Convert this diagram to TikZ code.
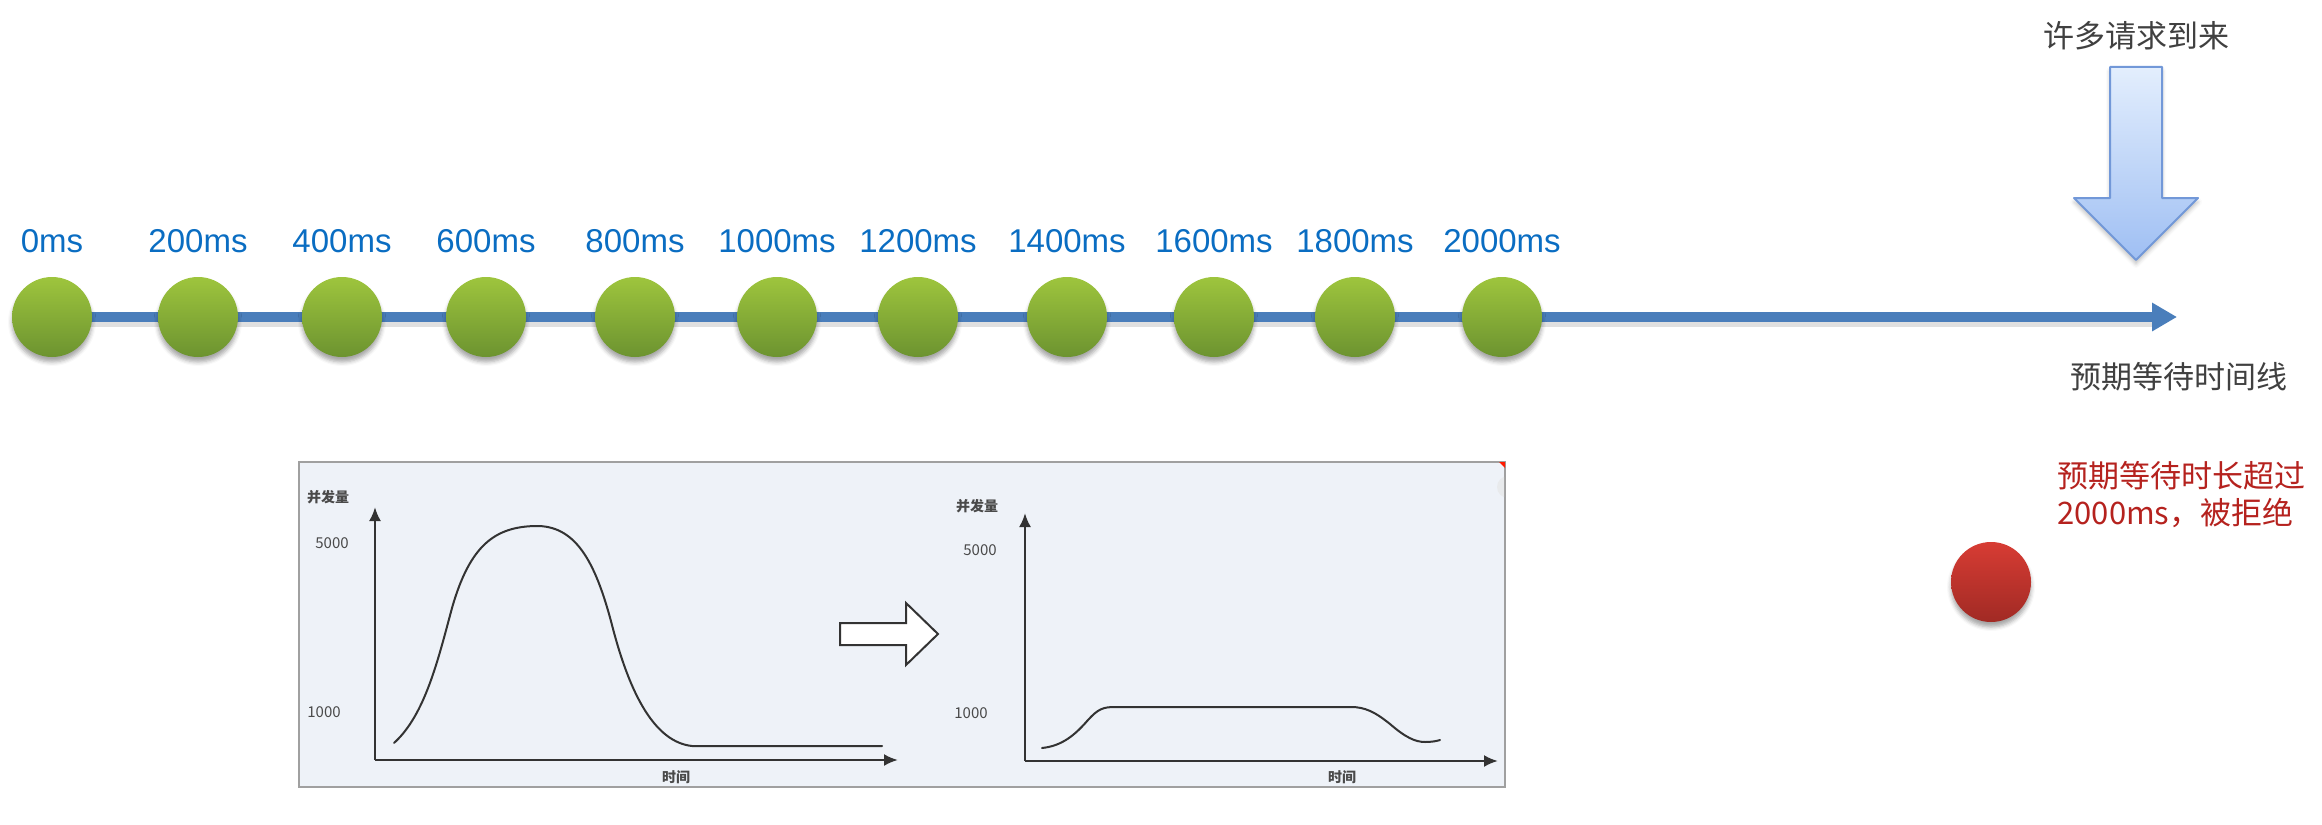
\documentclass[tikz,border=0pt]{standalone}
\usepackage{fontspec}
\setmainfont{Liberation Sans}
\newfontfamily\cjk{Noto Sans CJK SC}
\usetikzlibrary{arrows.meta,shadows.blur}
\definecolor{lblue}{HTML}{0A6DC2}
\definecolor{tline}{HTML}{4A7EBB}
\definecolor{gtop}{HTML}{9EC53D}
\definecolor{gbot}{HTML}{6C9330}
\definecolor{graytxt}{HTML}{404040}
\definecolor{redtxt}{HTML}{B5221E}
\definecolor{rtop}{HTML}{D73C34}
\definecolor{rbot}{HTML}{A12A24}
\definecolor{atop}{HTML}{E3EEFD}
\definecolor{abot}{HTML}{9FBFF3}
\definecolor{aedge}{HTML}{7298D8}
\definecolor{boxbg}{HTML}{EEF2F8}
\definecolor{boxedge}{HTML}{A0A0A0}
\definecolor{ink}{HTML}{333333}
\definecolor{chtxt}{HTML}{4A4A4A}
\tikzset{
  ballshadow/.style={blur shadow={shadow xshift=0pt,shadow yshift=-2.5pt,shadow blur radius=2pt,shadow opacity=35}},
  greenball/.style={circle,minimum size=40pt,inner sep=0pt,top color=gtop,bottom color=gbot,draw=none,ballshadow},
  redball/.style={circle,minimum size=40pt,inner sep=0pt,top color=rtop,bottom color=rbot,draw=none,ballshadow},
  mslabel/.style={anchor=base,inner sep=0pt,text=lblue,font=\fontsize{16.5pt}{18pt}\selectfont},
  graytext/.style={inner sep=0pt,text=graytxt,font=\cjk\fontsize{15.5pt}{18pt}\selectfont},
  redtext/.style={inner sep=0pt,text=redtxt,font=\cjk\fontsize{15.5pt}{18pt}\selectfont},
  chartlbl/.style={inner sep=0pt,text=chtxt,font=\cjk\bfseries\fontsize{7pt}{8pt}\selectfont},
  chartnum/.style={inner sep=0pt,text=chtxt,font=\cjk\fontsize{7.5pt}{8pt}\selectfont},
  axis/.style={ink,line width=1.2pt,-{Latex[length=7pt,width=6pt]}},
  curve/.style={ink,line width=1pt,line cap=round,line join=round},
}
\begin{document}
\begin{tikzpicture}[x=0.5pt,y=-0.5pt]
\useasboundingbox (0,0) rectangle (2322,824);

% timeline (drawn first so the balls sit on it)
\coordinate (t0) at (52,317);
\coordinate (tlend) at (2177,317);
\draw[black,opacity=0.12,line width=4pt] ([yshift=-3pt]t0) -- ([yshift=-3pt,xshift=-12pt]tlend);
\draw[tline,line width=5pt,-{Triangle[length=12.5pt,width=13.5pt]}] (t0) -- (tlend);

% timeline balls and labels
\foreach \x/\t [count=\i from 0] in {52/0ms,198/200ms,342/400ms,486/600ms,635/800ms,777/1000ms,918/1200ms,1067/1400ms,1214/1600ms,1355/1800ms,1502/2000ms}{
  \node[greenball] (c\i) at (\x,317) {};
  \node[mslabel] (l\i) at (\x,252) {\t};
}

% requests arrow
\node[graytext] (req) at (2136,36) {许多请求到来};
\path[top color=atop,bottom color=abot,draw=aedge,line width=1pt,line join=round,
  blur shadow={shadow xshift=0pt,shadow yshift=-2pt,shadow blur radius=2pt,shadow opacity=25}]
  (2110,67) -- (2162,67) -- (2162,198) -- (2198,198) -- (2136,260) -- (2074,198) -- (2110,198) -- cycle;
\node[graytext] (tlname) at (2179,377) {预期等待时间线};

% rejected
\node[redtext,anchor=west] (rej1) at (2057,476) {预期等待时长超过};
\node[redtext,anchor=west] (rej2) at (2057,513) {2000ms，被拒绝};
\node[redball] (rball) at (1991,582) {};

% chart screenshot
\draw[fill=boxbg,draw=boxedge,line width=1.2pt] (299,462) rectangle (1505,787);
\fill[red!80!orange] (1499,462) -- (1505,462) -- (1505,468) -- cycle;
\begin{scope}
  \clip (299,462) rectangle (1504,787);
  \fill[black!10,opacity=0.6] (1508,487) circle (11);
\end{scope}

% left chart
\coordinate (lo) at (375,760);
\coordinate (ly) at (375,507);
\coordinate (lx) at (898,760);
\draw[axis] (lo) -- (ly);
\draw[axis] (lo) -- (lx);
\node[chartlbl] (lq) at (328,497) {并发量};
\node[chartnum] (l5) at (332,543) {5000};
\node[chartnum] (l1) at (324,712) {1000};
\node[chartlbl] (lt) at (676,777) {时间};
\draw[curve] (394,743) .. controls (425,715) and (438,660) .. (452,608)
  .. controls (470,545) and (495,527) .. (535,526)
  .. controls (575,525) and (595,560) .. (612,625)
  .. controls (630,695) and (655,742) .. (692,746) -- (882,746);

% hollow arrow
\draw[ink,fill=white,line width=1pt,line join=miter] (840,623) -- (906,623) -- (906,603) -- (938,634) -- (906,665) -- (906,645) -- (840,645) -- cycle;

% right chart
\coordinate (ro) at (1025,761);
\coordinate (ry) at (1025,513);
\coordinate (rx) at (1498,761);
\draw[axis] (ro) -- (ry);
\draw[axis] (ro) -- (rx);
\node[chartlbl] (rq) at (977,506) {并发量};
\node[chartnum] (r5) at (980,550) {5000};
\node[chartnum] (r1) at (971,713) {1000};
\node[chartlbl] (rt) at (1342,777) {时间};
\draw[curve] (1042,748) .. controls (1062,746) and (1075,735) .. (1088,720)
  .. controls (1098,709) and (1103,707) .. (1115,707) -- (1351,707)
  .. controls (1365,707) and (1375,712) .. (1390,724)
  .. controls (1405,737) and (1415,742) .. (1425,742)
  .. controls (1432,742) and (1437,741) .. (1440,740);
\end{tikzpicture}
\end{document}
